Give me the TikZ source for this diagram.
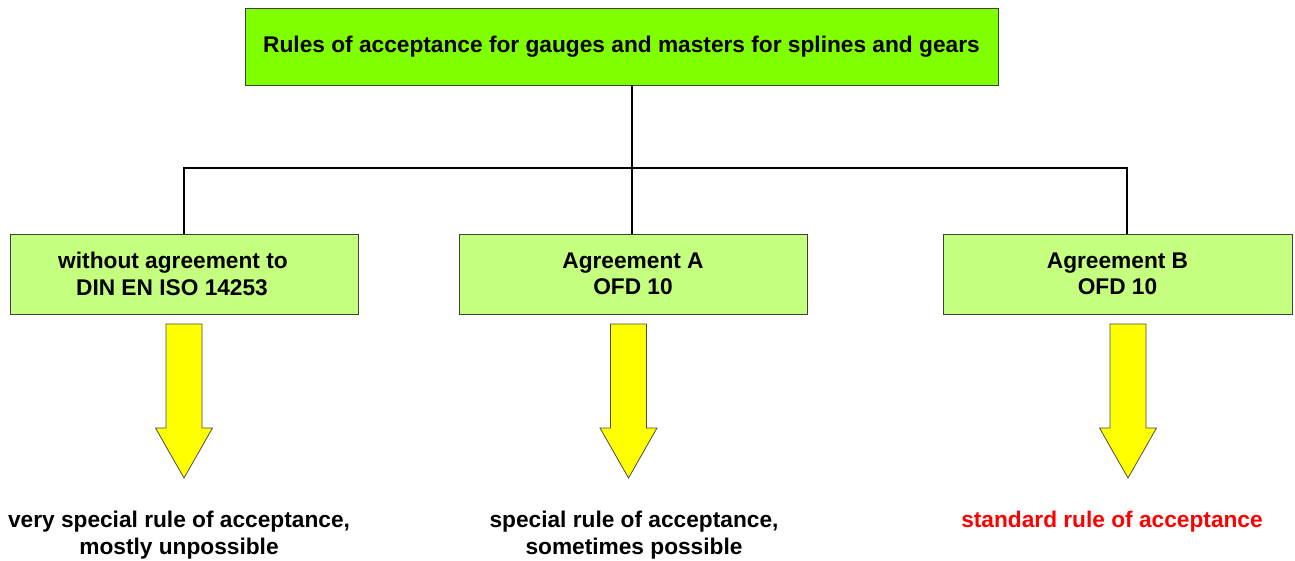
\documentclass[tikz,border=0pt]{standalone}
\usepackage{fontspec}
\setmainfont{Liberation Sans}
\begin{document}
\begin{tikzpicture}[x=1pt,y=-1pt,
  txt/.style={font=\fontsize{22.7}{26.5}\selectfont\bfseries, align=center, inner sep=0pt},
  topbox/.style={txt, draw=black!75, line width=0.9pt, fill={rgb,255:red,128;green,255;blue,0},
    minimum width=753pt, minimum height=77pt},
  subbox/.style={txt, draw=black!75, line width=0.9pt, fill={rgb,255:red,196;green,255;blue,128},
    minimum width=348pt, minimum height=80pt},
  conn/.style={draw=black, line width=2pt},
  result/.style={txt},
  blockarrow/.pic={
    \draw[fill={rgb,255:red,255;green,255;blue,0}, draw=black!70, line width=0.8pt, line join=miter]
      (-18,0) -- (18,0) -- (18,104) -- (28.5,104) -- (0,154) -- (-28.5,104) -- (-18,104) -- cycle;
  }]
  \useasboundingbox (0,0) rectangle (1295,560);

  % title box
  \node[topbox] (top) at (621.5,46.5) {Rules of acceptance for gauges and masters for splines and gears};

  % the three kinds of agreement
  \node[subbox] (lbox) at (184,274) {without agreement to\hspace*{22pt}\\DIN EN ISO 14253\hspace*{24pt}};
  \node[subbox] (mbox) at (633,274) {Agreement A\\OFD 10};
  \node[subbox, minimum width=349pt] (rbox) at (1117.5,274) {Agreement B\\OFD 10};

  % tree connectors
  \coordinate (hub) at (632,168);
  \coordinate (rj) at (1127,168);
  \draw[conn] (hub |- top.south) -- (hub |- mbox.north);
  \draw[conn] (lbox.north) |- (rj) -- (rj |- rbox.north);

  % outcome arrows
  \pic at (184,324) {blockarrow};
  \pic at (628.5,324) {blockarrow};
  \pic at (1128,324) {blockarrow};

  % outcomes
  \node[result] (lres) at (179,535) {very special rule of acceptance,\\mostly unpossible};
  \node[result] (mres) at (634,535) {special rule of acceptance,\\sometimes possible};
  \node[result, text=red] (rres) at (1112,522) {standard rule of acceptance};
\end{tikzpicture}
\end{document}
